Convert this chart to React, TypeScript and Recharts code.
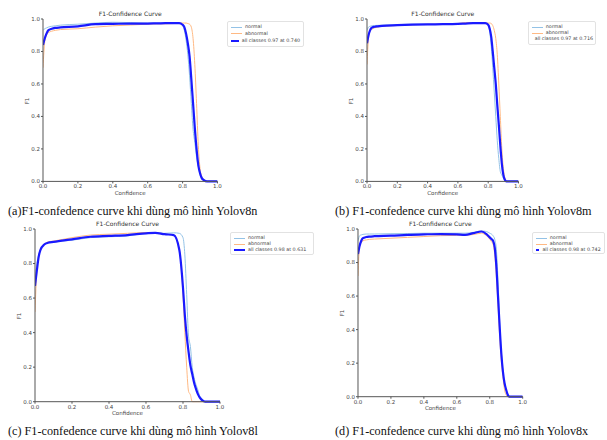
import React from 'react';
import { LineChart, Line, XAxis, YAxis } from 'recharts';

// confidence grid shared by every curve
const conf = [0, 0.01, 0.02, 0.03, 0.05, 0.07, 0.1, 0.2, 0.3, 0.4, 0.5, 0.6, 0.65, 0.7, 0.75, 0.78, 0.8, 0.81, 0.82, 0.83, 0.84, 0.85, 0.86, 0.87, 0.88, 0.89, 0.9, 0.91, 0.92, 0.94, 0.96, 1.0];
const axisTicks = [0, 0.2, 0.4, 0.6, 0.8, 1.0];

// Yolov8n
const v8nNormal = [0.93, 0.94, 0.945, 0.95, 0.955, 0.958, 0.962, 0.968, 0.975, 0.98, 0.978, 0.975, 0.975, 0.975, 0.975, 0.975, 0.96, 0.93, 0.87, 0.78, 0.65, 0.48, 0.32, 0.24, 0.15, 0.09, 0.04, 0.015, 0.005, 0, 0, 0];
const v8nAbnormal = [0.7, 0.86, 0.9, 0.915, 0.925, 0.93, 0.935, 0.94, 0.95, 0.958, 0.963, 0.968, 0.97, 0.97, 0.972, 0.975, 0.975, 0.975, 0.975, 0.972, 0.968, 0.95, 0.88, 0.72, 0.48, 0.22, 0.08, 0.03, 0.01, 0, 0, 0];
const v8nAll = [0.84, 0.88, 0.91, 0.93, 0.94, 0.945, 0.948, 0.955, 0.968, 0.97, 0.972, 0.972, 0.973, 0.974, 0.975, 0.975, 0.965, 0.95, 0.91, 0.85, 0.77, 0.63, 0.48, 0.33, 0.2, 0.1, 0.05, 0.02, 0.01, 0, 0, 0];

// Yolov8m
const v8mNormal = [0.93, 0.95, 0.955, 0.958, 0.96, 0.961, 0.962, 0.965, 0.968, 0.968, 0.968, 0.97, 0.972, 0.973, 0.975, 0.975, 0.96, 0.92, 0.83, 0.7, 0.55, 0.4, 0.25, 0.14, 0.06, 0.04, 0.02, 0.005, 0, 0, 0, 0];
const v8mAbnormal = [0.72, 0.88, 0.925, 0.935, 0.945, 0.95, 0.955, 0.96, 0.965, 0.967, 0.968, 0.972, 0.978, 0.978, 0.975, 0.975, 0.975, 0.975, 0.972, 0.96, 0.93, 0.88, 0.78, 0.6, 0.4, 0.2, 0.08, 0.02, 0, 0, 0, 0];
const v8mAll = [0.85, 0.9, 0.93, 0.945, 0.952, 0.955, 0.958, 0.962, 0.965, 0.967, 0.968, 0.97, 0.972, 0.974, 0.975, 0.975, 0.965, 0.94, 0.89, 0.8, 0.7, 0.6, 0.47, 0.35, 0.22, 0.11, 0.04, 0.01, 0, 0, 0, 0];

// Yolov8l
const v8lNormal = [0.7, 0.8, 0.85, 0.88, 0.91, 0.92, 0.925, 0.935, 0.95, 0.955, 0.96, 0.975, 0.978, 0.975, 0.978, 0.975, 0.95, 0.85, 0.62, 0.38, 0.32, 0.2, 0.14, 0.1, 0.07, 0.035, 0.02, 0.008, 0, 0, 0, 0];
const v8lAbnormal = [0.52, 0.76, 0.84, 0.88, 0.91, 0.925, 0.93, 0.95, 0.965, 0.97, 0.975, 0.98, 0.978, 0.97, 0.965, 0.88, 0.62, 0.4, 0.2, 0.06, 0.04, 0, 0, 0, 0, 0, 0, 0, 0, 0, 0, 0];
const v8lAll = [0.67, 0.76, 0.84, 0.88, 0.91, 0.92, 0.925, 0.94, 0.955, 0.96, 0.965, 0.975, 0.978, 0.97, 0.965, 0.88, 0.66, 0.5, 0.38, 0.29, 0.21, 0.16, 0.11, 0.075, 0.045, 0.025, 0.012, 0.004, 0, 0, 0, 0];

// Yolov8x
const v8xNormal = [0.93, 0.96, 0.965, 0.968, 0.97, 0.97, 0.97, 0.972, 0.973, 0.975, 0.975, 0.975, 0.975, 0.98, 0.988, 0.985, 0.975, 0.97, 0.96, 0.94, 0.88, 0.7, 0.45, 0.27, 0.15, 0.08, 0.04, 0.01, 0, 0, 0, 0];
const v8xAbnormal = [0.72, 0.9, 0.92, 0.93, 0.935, 0.938, 0.94, 0.945, 0.95, 0.955, 0.96, 0.962, 0.963, 0.967, 0.975, 0.96, 0.94, 0.925, 0.91, 0.85, 0.72, 0.55, 0.36, 0.22, 0.12, 0.04, 0.01, 0, 0, 0, 0, 0];
const v8xAll = [0.85, 0.9, 0.93, 0.945, 0.952, 0.955, 0.957, 0.96, 0.965, 0.968, 0.97, 0.968, 0.965, 0.975, 0.985, 0.97, 0.95, 0.94, 0.93, 0.89, 0.78, 0.6, 0.42, 0.26, 0.15, 0.08, 0.04, 0.01, 0, 0, 0, 0];

const NORMAL = '#93c2e6';
const ABNORMAL = '#ffb983';
const ALL = '#1a1aff';
const tickFont = { fontSize: 5.5, fill: '#444', fontFamily: 'DejaVu Sans' };

const ML = 36, MT = 14, MR = 8, MB = 22;

const Panel = ({ p }) => {
  const data = conf.map((c, i) => ({ c, normal: p.normal[i], abnormal: p.abnormal[i], all: p.all[i] }));
  const pw = p.x1 - p.x0;
  const ph = p.yB - p.yT;
  return (
    <>
      <div style={{ position: 'absolute', left: p.x0 - ML, top: p.yT - MT }}>
        <LineChart width={pw + ML + MR} height={ph + MT + MB} data={data}
          margin={{ top: MT, right: MR, bottom: 0, left: ML - 22 }}>
          <XAxis dataKey="c" type="number" domain={[0, 1]} ticks={axisTicks} height={22}
            tickFormatter={(v) => v.toFixed(1)} tick={tickFont} tickSize={2} tickMargin={1}
            stroke="#555" allowDataOverflow />
          <XAxis xAxisId="top" dataKey="c" type="number" domain={[0, 1]} orientation="top" height={0}
            tick={false} tickLine={false} stroke="#555" />
          <YAxis type="number" domain={[0, 1]} ticks={axisTicks} width={22}
            tickFormatter={(v) => v.toFixed(1)} tick={tickFont} tickSize={2} tickMargin={1}
            stroke="#555" />
          <YAxis yAxisId="right" type="number" domain={[0, 1]} orientation="right" width={0}
            tick={false} tickLine={false} stroke="#555" />
          <Line type="monotone" dataKey="normal" stroke={NORMAL} strokeWidth={1} dot={false} isAnimationActive={false} />
          <Line type="monotone" dataKey="abnormal" stroke={ABNORMAL} strokeWidth={1} dot={false} isAnimationActive={false} />
          <Line type="monotone" dataKey="all" stroke={ALL} strokeWidth={2.2} dot={false} isAnimationActive={false} />
        </LineChart>
      </div>
      <div style={{ position: 'absolute', left: p.x0, width: pw, top: p.yT - 9, textAlign: 'center', fontSize: 6, fontFamily: 'DejaVu Sans', color: '#333', lineHeight: '8px' }}>
        F1-Confidence Curve
      </div>
      <div style={{ position: 'absolute', left: p.x0, width: pw, top: p.yB + 8, textAlign: 'center', fontSize: 5.5, fontFamily: 'DejaVu Sans', color: '#444', lineHeight: '7px' }}>
        Confidence
      </div>
      <div style={{ position: 'absolute', left: p.x0 - 16 - 10, width: 20, top: p.yT + ph / 2 - 4, textAlign: 'center', fontSize: 5.5, fontFamily: 'DejaVu Sans', color: '#444', lineHeight: '8px', transform: 'rotate(-90deg)' }}>
        F1
      </div>
      <div style={{ position: 'absolute', left: p.lx, top: p.ly, width: p.lw, height: p.lh, boxSizing: 'border-box', border: '1px solid #e2e2e2', borderRadius: 2, padding: '2px 3px', display: 'flex', flexDirection: 'column', justifyContent: 'space-around', fontSize: 4.8, fontFamily: 'DejaVu Sans', color: '#444', background: '#fff' }}>
        {[['normal', NORMAL, 1], ['abnormal', ABNORMAL, 1], [p.allLabel, ALL, 2]].map(([t, c, w]) => (
          <div key={t} style={{ display: 'flex', alignItems: 'center', whiteSpace: 'nowrap', lineHeight: '6px' }}>
            <span style={{ display: 'inline-block', width: 11, height: w, background: c, marginRight: 3 }} />
            {t}
          </div>
        ))}
      </div>
      <div style={{ position: 'absolute', left: p.cx, top: p.cy, fontSize: 12.2, fontFamily: 'Liberation Serif', color: '#111', whiteSpace: 'nowrap', lineHeight: '14px' }}>
        {p.caption}
      </div>
    </>
  );
};

const panels = [
  { x0: 43, x1: 217.5, yT: 19.3, yB: 181.7, normal: v8nNormal, abnormal: v8nAbnormal, all: v8nAll, allLabel: 'all classes 0.97 at 0.740', lx: 227, ly: 21, lw: 77, lh: 26, cx: 8, cy: 204, caption: '(a)F1-confedence curve khi dùng mô hình Yolov8n' },
  { x0: 367, x1: 518.5, yT: 19.3, yB: 181.7, normal: v8mNormal, abnormal: v8mAbnormal, all: v8mAll, allLabel: 'all classes 0.97 at 0.716', lx: 527.7, ly: 21, lw: 68, lh: 24, cx: 335, cy: 204, caption: '(b) F1-confedence curve khi dùng mô hình Yolov8m' },
  { x0: 35, x1: 220, yT: 229.3, yB: 402, normal: v8lNormal, abnormal: v8lAbnormal, all: v8lAll, allLabel: 'all classes 0.98 at 0.631', lx: 230, ly: 232, lw: 84, lh: 23, cx: 8, cy: 424, caption: '(c) F1-confedence curve khi dùng mô hình Yolov8l' },
  { x0: 358, x1: 522.7, yT: 229.3, yB: 397, normal: v8xNormal, abnormal: v8xAbnormal, all: v8xAll, allLabel: 'all classes 0.98 at 0.742', lx: 531.7, ly: 232, lw: 73, lh: 22, cx: 335, cy: 424, caption: '(d) F1-confedence curve khi dùng mô hình Yolov8x' },
];

export default function App() {
  return (
    <div style={{ position: 'absolute', left: 0, top: 0, width: 607, height: 440, background: '#fff', overflow: 'hidden' }}>
      {panels.map((p, i) => <Panel key={i} p={p} />)}
    </div>
  );
}
